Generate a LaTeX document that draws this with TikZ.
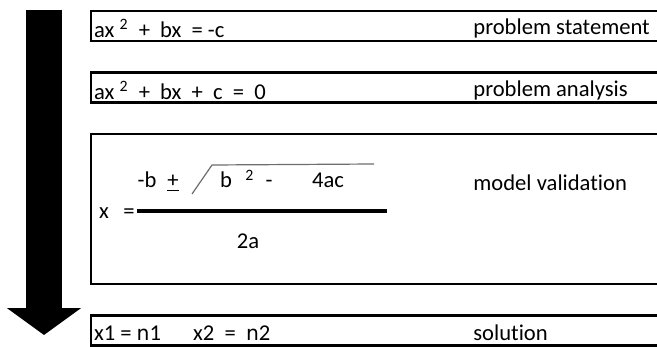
\documentclass[tikz,border=0pt]{standalone}
\usepackage{fontspec}
\setmainfont{Carlito}[Ligatures=NoCommon]
\newfontfamily\armfont[Scale=0.9]{DejaVu Sans}
\usetikzlibrary{arrows.meta, positioning}
\definecolor{rootgray}{RGB}{110,110,110}
\tikzset{
  stagebox/.style={rectangle,draw=black,line width=1.2pt,minimum width=320pt,inner sep=0pt},
  eqtext/.style={anchor=west,inner sep=0pt},
  labeltext/.style={anchor=west,inner sep=0pt},
  termtext/.style={anchor=base,inner sep=0pt},
  flowarr/.style={-{Triangle[length=13.5pt,width=36.5pt]},line width=18pt,color=black},
  fracbar/.style={line width=2pt,color=black},
  rootline/.style={line width=0.6pt,color=rootgray}
}
\newcommand{\sqtwo}{\textsuperscript{2}}
\newcommand{\rootvo}{{\armfont ո}}

\begin{document}
\begin{tikzpicture}[x=0.5pt,y=-0.5pt,node distance=14.5pt,font=\fontsize{11.3}{13.6}\selectfont]
  \useasboundingbox (0,0) rectangle (657,347);
  \fill[white] (0,0) rectangle (657,347);
  \clip (0,0) rectangle (657,347);

  % big flow arrow on the left
  \coordinate (flowtop) at (44,10);
  \coordinate (flowtip) at (44,335);
  \draw[flowarr] (flowtop) -- (flowtip);

  % the four stages
  \node[stagebox,minimum height=15pt,anchor=north west] (stmt) at (90,10) {};
  \node[stagebox,minimum height=15pt,below=of stmt] (anal) {};
  \node[stagebox,minimum height=75pt,below=of anal] (model) {};
  \node[stagebox,minimum height=15pt,below=of model] (soln) {};

  \node[eqtext] (stmteq) at ([xshift=1.8pt,yshift=-1.2pt]stmt.west) {ax \sqtwo\ \ +\ \ bx\ \ =\ -c};
  \node[labeltext] (stmtlbl) at ([xshift=191.5pt,yshift=-1.2pt]stmt.west) {problem statement};

  \node[eqtext] (analeq) at ([xshift=1.8pt,yshift=-1.2pt]anal.west) {ax \sqtwo\ \ +\ \ bx\ \ +\ \ c\ \ =\ \ 0};
  \node[labeltext] (anallbl) at ([xshift=191.5pt,yshift=-1.2pt]anal.west) {problem analysis};

  \node[labeltext] (modellbl) at ([xshift=191.5pt,yshift=-25pt]model.north west) {model validation};

  % quadratic formula
  \node[termtext] (xvar) at (104,218) {x};
  \node[termtext] (xeq) at (129,218) {=};
  \coordinate (barL) at (137,211);
  \coordinate (barR) at (387,211);
  \draw[fracbar] (barL) -- (barR);
  \node[termtext] (negb) at (147,188) {-b};
  \node[termtext] (pm) at (173,188) {\underline{+}};
  \coordinate (rootfoot) at (192,194);
  \coordinate (roottop) at (212,165);
  \coordinate (rootend) at (374,164);
  \draw[rootline] (rootfoot) -- (roottop) -- (rootend);
  \node[termtext] (rootb) at (226,188) {b};
  \node[termtext] (rootsq) at (250,188) {\sqtwo};
  \node[termtext] (rootminus) at (269,188) {-};
  \node[termtext] (fourac) at (328,188) {4ac};
  \node[termtext] (denom) at (248,248) {2a};

  \node[eqtext] (solneq) at ([xshift=1.8pt,yshift=-1.2pt]soln.west) {x1 = \rootvo1\hspace{16pt}x2\ \ =\ \ \rootvo2};
  \node[labeltext] (solnlbl) at ([xshift=191.5pt,yshift=-1.2pt]soln.west) {solution};
\end{tikzpicture}
\end{document}
